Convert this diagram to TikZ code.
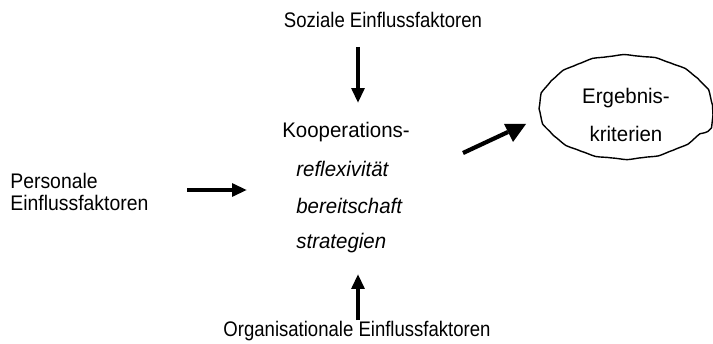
\documentclass[tikz,border=0pt]{standalone}
\usepackage{fontspec}
\setmainfont{Liberation Sans}
\newfontfamily\schmal[FakeStretch=0.88]{Liberation Sans}
\newfontfamily\mittel[FakeStretch=0.92]{Liberation Sans}
\newfontfamily\breit[FakeStretch=0.97]{Liberation Sans}
\usetikzlibrary{shapes,arrows.meta,decorations.pathmorphing}

\tikzset{
  txt/.style={inner sep=0pt,font=\schmal\fontsize{12}{14}\selectfont},
  mitte/.style={inner sep=0pt,anchor=west,font=\breit\fontsize{12}{14}\selectfont},
  kursiv/.style={mitte,font=\breit\fontsize{12}{14}\selectfont\itshape},
  pfeil/.style={line width=2.4pt,-{Triangle[length=8.5pt,width=7.2pt]}}
}

\begin{document}
\begin{tikzpicture}[x=0.02cm,y=-0.02cm]
\useasboundingbox (0,0) rectangle (713,344);
\node[txt] (soz) at (383,20) {Soziale Einflussfaktoren};
\node[mitte] (koop) at (282,132) {Kooperations-};
\node[kursiv] (refl) at (296,169) {reflexivit\"at};
\node[kursiv] (bereit) at (296,206) {bereitschaft};
\node[kursiv] (strat) at (296,243) {strategien};
\node[txt] (org) at (357,331) {Organisationale Einflussfaktoren};
\node[txt,anchor=west,align=left,font=\mittel\fontsize{12}{12.5}\selectfont] (pers) at (10,192) {Personale\\Einflussfaktoren};
\node[ellipse,draw,line width=0.8pt,inner sep=0pt,
      minimum width=3.48cm,minimum height=2.08cm,
      decorate,decoration={snake,amplitude=0.3pt,segment length=18pt},
      txt,align=center,font=\breit\fontsize{12}{21.5}\selectfont] (erg) at (626,115) {Ergebnis-\\kriterien};
% Pfeile
\coordinate (sozend) at (358,47);
\coordinate (orgend) at (358,320);
\coordinate (persend) at (187,190);
\coordinate (diag) at (463,153);
\draw[pfeil] (sozend) -- (sozend |- 0,103);
\draw[pfeil] (orgend) -- (orgend |- 0,274);
\draw[pfeil] (persend) -- (247,190);
\draw[line width=2.4pt] (diag) -- (508,132);
\fill (504,124) -- (526,124) -- (513,142) -- cycle;
\end{tikzpicture}
\end{document}
